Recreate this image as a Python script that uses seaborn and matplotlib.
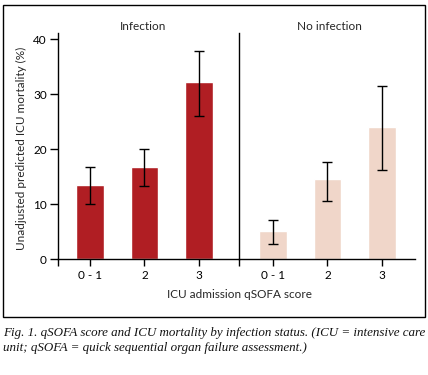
import pandas as pd
import numpy as np
import seaborn as sns
import matplotlib.pyplot as plt
from matplotlib.patches import Rectangle

# data
scores = ['0 - 1', '2', '3']
infection_mort = [13.5, 16.8, 32.2]
infection_low = [10.0, 13.3, 26.1]
infection_high = [16.8, 20.0, 37.8]
noinf_mort = [5.2, 14.5, 24.1]
noinf_low = [2.7, 10.6, 16.3]
noinf_high = [7.2, 17.6, 31.5]

df = pd.DataFrame({
    'group': ['Infection'] * 3 + ['No infection'] * 3,
    'score': scores * 2,
    'mortality': infection_mort + noinf_mort,
    'low': infection_low + noinf_low,
    'high': infection_high + noinf_high,
})

sns.set_style("white")
plt.rcParams['font.family'] = ['Lato', 'DejaVu Sans']

W, H = 428, 375
fig = plt.figure(figsize=(W / 100, H / 100), dpi=100)

def fx(px):
    return px / W

def fy(py):
    return 1 - py / H

ax1 = fig.add_axes([fx(58), fy(259.3), fx(239) - fx(58), fy(33) - fy(259.3)])
ax2 = fig.add_axes([fx(239), fy(259.3), fx(415) - fx(239), fy(33) - fy(259.3)], sharey=ax1)

colors = {'Infection': '#B01E23', 'No infection': '#F0D6C9'}
xlims = {'Infection': (-0.587, 2.734), 'No infection': (-0.624, 2.606)}

for ax, grp in [(ax1, 'Infection'), (ax2, 'No infection')]:
    sub = df[df['group'] == grp]
    sns.barplot(x='score', y='mortality', data=sub, color=colors[grp],
                width=0.51, errorbar=None, saturation=1, ax=ax)
    pos = np.arange(len(sub))
    ax.errorbar(pos, sub['mortality'],
                yerr=[sub['mortality'] - sub['low'], sub['high'] - sub['mortality']],
                fmt='none', ecolor='black', elinewidth=1, capsize=3.5, capthick=1)
    ax.set_xlim(*xlims[grp])
    ax.set_ylim(0, 41.1)
    ax.set_xlabel('')
    ax.set_ylabel('')
    for s in ['top', 'right']:
        ax.spines[s].set_visible(False)
    ax.spines['left'].set_linewidth(1)
    ax.spines['bottom'].set_linewidth(1)
    ax.spines['left'].set_color('black')
    ax.spines['bottom'].set_color('black')
    ax.tick_params(axis='x', which='major', length=5, width=1, direction='out',
                   colors='black', labelsize=8.5, pad=3, bottom=True)
    ax.set_xticks(pos, scores)
    ax.set_xticks([xlims[grp][0]], minor=True)
    ax.tick_params(axis='x', which='minor', length=5, width=1, direction='out',
                   colors='black', bottom=True)

ax1.set_yticks([0, 10, 20, 30, 40])
ax1.tick_params(axis='y', length=6, width=1, direction='out', colors='black',
                labelsize=8.5, pad=2, left=True)
ax2.tick_params(axis='y', left=False, labelleft=False)

fig.text(fx(143), fy(27), 'Infection', ha='center', va='center', fontsize=8.5)
fig.text(fx(329), fy(27), 'No infection', ha='center', va='center', fontsize=8.5)
fig.text(fx(240), fy(294), 'ICU admission qSOFA score', ha='center', va='center', fontsize=8.5)
fig.text(fx(21), fy(148), 'Unadjusted predicted ICU mortality (%)', ha='center',
         va='center', rotation=90, fontsize=8.5)

# border box around the chart
fig.patches.append(Rectangle((fx(3), fy(317)), fx(425) - fx(3), fy(5) - fy(317),
                             transform=fig.transFigure, fill=False,
                             edgecolor='black', linewidth=1))

cap_font = dict(family='Liberation Serif', style='italic', fontsize=9.35, color='#111111')
fig.text(fx(3), fy(333), 'Fig. 1. qSOFA score and ICU mortality by infection status. (ICU = intensive care',
         ha='left', va='center', **cap_font)
fig.text(fx(3), fy(348.5), 'unit; qSOFA = quick sequential organ failure assessment.)',
         ha='left', va='center', **cap_font)

fig.savefig('out.png', dpi=100)
